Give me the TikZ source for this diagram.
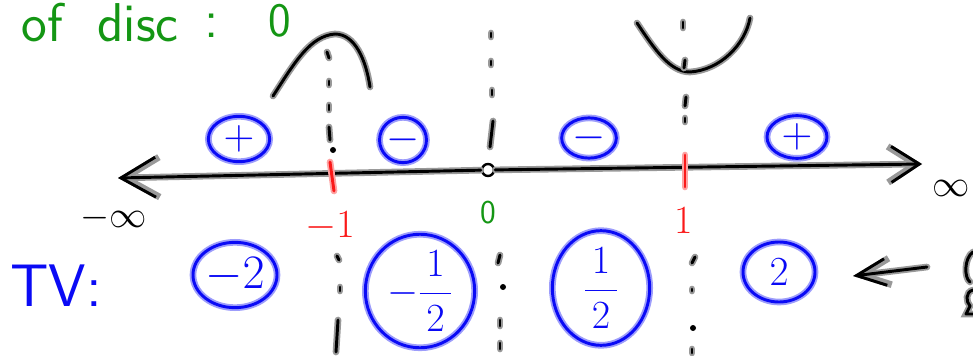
\documentclass[tikz,border=0pt]{standalone}
\usepackage{fix-cm}
\usepackage{tikz}
\usetikzlibrary{arrows.meta,positioning,shapes.geometric}
\definecolor{penblue}{RGB}{10,10,245}
\definecolor{pengreen}{RGB}{20,150,20}
\definecolor{penred}{RGB}{250,25,25}
\tikzset{
  ink/.style    ={draw=black, line width=2.2pt, line cap=round, line join=round,
                  preaction={draw=black!40, line width=5pt, line cap=round}},
  redink/.style ={draw=penred, line width=2.2pt, line cap=round,
                  preaction={draw=penred!40, line width=5pt, line cap=round}},
  sgn/.style    ={ellipse, draw=penblue, line width=2.2pt, inner sep=0pt,
                  text=penblue, preaction={draw=penblue!40, line width=5pt},
                  font=\fontsize{32}{32}\selectfont},
  val/.style    ={sgn, font=\fontsize{36}{36}\selectfont},
  frc/.style    ={sgn, font=\fontsize{30}{30}\selectfont},
  grn/.style    ={text=pengreen, inner sep=0pt, anchor=base,
                  font=\fontsize{41}{41}\selectfont\sffamily},
  redlbl/.style ={text=penred, inner sep=0pt,
                  font=\fontsize{30}{30}\selectfont},
  blk/.style    ={text=black, inner sep=0pt,
                  font=\fontsize{28}{28}\selectfont},
}

\begin{document}
\begin{tikzpicture}[x=0.75pt, y=-0.75pt]
  \useasboundingbox (0,0) rectangle (973,356);

  % heading
  \node[grn] (of)   at (42,42)  {of};
  \node[grn] (disc) at (138,42) {disc};
  \node[grn] (cln)  at (212,38) {:};
  \node[grn, font=\fontsize{36}{36}\selectfont\sffamily] (zero) at (280,37) {0};

  % sketches of the graph
  \draw[ink] (273,96) .. controls (295,62) and (310,36) .. (335,34)
                      .. controls (355,34) and (366,60) .. (370,87);
  \draw[ink] (637,23) .. controls (655,50) and (670,72) .. (690,72)
                      .. controls (720,70) and (745,45) .. (750,18);

  % number line
  \coordinate (ninf) at (118,178);
  \coordinate (pinf) at (922,164);
  \node[draw, circle, fill=white, line width=1.8pt, minimum size=9pt,
        inner sep=0pt] (orig) at (488,170) {};
  \draw[ink, -{Straight Barb[length=26pt,width=30pt]}] (orig) -- (ninf);
  \draw[ink, -{Straight Barb[length=21pt,width=27pt]}] (orig) -- (pinf);
  \node[blk] (minf) at (114,218) {$-\infty$};
  \node[blk] (plinf) at (951,188) {$\infty$};

  % zeros of the derivative
  \draw[redink] (330,162) -- (334,191);
  \draw[redink] (685,155) -- (685,187);
  \node[redlbl] (mone) at (330,226) {$-1$};
  \node[redlbl] (one)  at (684,220) {1};
  \node[grn, anchor=center, font=\fontsize{25}{25}\selectfont\sffamily]
    (zmid) at (488,213) {0};

  % dotted guides
  \foreach \xa/\ya/\xb/\yb in {327/52/329/58, 329/81/329/85, 329/105/329/110,
      329/127/330/140, 337/256/339/260, 340/287/340/291, 338/320/336/352,
      491/33/491/37, 491/61/491/65, 492/90/492/95, 493/121/490/147,
      500/255/498/263, 500/320/500/326, 500/343/500/349,
      683/22/683/28, 685/60/684/68, 686/97/685/106, 685/118/685/122,
      695/257/692/263, 692/289/692/291, 692/349/692/353}
    \draw[ink] (\xa,\ya) -- (\xb,\yb);
  \foreach \x/\y in {333/150, 503/287, 693/328}
    \fill (\x,\y) circle[radius=3];

  % signs
  \node[sgn, minimum width=46pt, minimum height=34pt] (s1) at (239,139) {$+$};
  \node[sgn, minimum width=35pt, minimum height=34pt] (s2) at (403,140) {$-$};
  \node[sgn, minimum width=41pt, minimum height=30pt] (s3) at (589,138) {$-$};
  \node[sgn, minimum width=45pt, minimum height=32pt] (s4) at (797,137) {$+$};

  % test values
  \node[text=penblue, inner sep=0pt,
        font=\fontsize{45}{45}\selectfont\sffamily] (tv) at (56,286) {TV:};
  \node[val, minimum width=63pt, minimum height=49pt] (t1) at (235,275) {$-2$};
  \node[frc, minimum width=82pt, minimum height=80pt] (t2) at (420,291)
    {$-\displaystyle\frac{\,1\,}{\,2\,}$};
  \node[frc, minimum width=73pt, minimum height=86pt] (t3) at (601,288)
    {$\displaystyle\frac{\,1\,}{\,2\,}$};
  \node[val, font=\fontsize{31}{31}\selectfont,
        minimum width=54pt, minimum height=45pt] (t4) at (779,272) {$2$};

  \coordinate (tail) at (927,267);
  \coordinate (tip)  at (853,276);
  \draw[ink, -{Straight Barb[length=22pt,width=20pt]}] (tail) -- (tip);

  % cut-off writing at the edge
  \draw[ink] (973,252) .. controls (964,258) and (964,278) .. (970,282);
  \draw[ink] (973,290) .. controls (965,292) and (966,302) .. (970,306)
             -- (966,314) -- (973,314);
\end{tikzpicture}
\end{document}
